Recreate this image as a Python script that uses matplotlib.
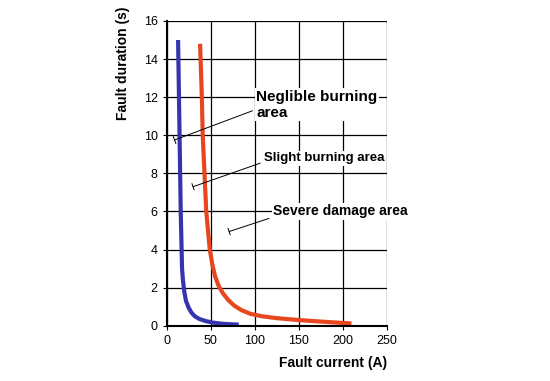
import matplotlib
matplotlib.use("Agg")
import matplotlib.pyplot as plt

plt.rcParams['font.family'] = ['Liberation Sans', 'DejaVu Sans']

# blue curve (left boundary)
blue_current = [13, 14, 15, 16, 16.5, 17, 17.5, 18.5, 20, 22, 25, 28, 32, 37,
                44, 52, 62, 72, 82]
blue_duration = [15, 12, 9, 6, 5, 4, 3, 2.4, 1.8, 1.3, 0.95, 0.7, 0.5, 0.36,
                 0.25, 0.17, 0.11, 0.08, 0.06]

# red curve (right boundary)
red_current = [38, 40, 41, 43, 45, 47, 49, 52, 55, 59, 64, 70, 77, 85, 95,
               108, 125, 145, 165, 185, 210]
red_duration = [14.8, 12, 10, 8, 6, 5, 4, 3.2, 2.6, 2.1, 1.7, 1.35, 1.05,
                0.82, 0.63, 0.5, 0.4, 0.32, 0.25, 0.19, 0.12]

xticks = [0, 50, 100, 150, 200, 250]
yticks = [0, 2, 4, 6, 8, 10, 12, 14, 16]

fig = plt.figure(figsize=(5.5, 3.81), dpi=100)
ax = fig.add_axes([0.303, 0.145, 0.40, 0.80])

ax.plot(blue_current, blue_duration, c="#3535b0", lw=3, solid_capstyle="butt")
ax.plot(red_current, red_duration, c="#e8461e", lw=3, solid_capstyle="butt")

ax.set_xlim(0, 250)
ax.set_ylim(0, 16)
ax.set_xticks(xticks)
ax.set_yticks(yticks)
ax.grid(True, color="black", lw=0.9)
ax.set_axisbelow(True)
for s in ["top", "right"]:
    ax.spines[s].set_visible(False)
ax.spines["left"].set_linewidth(1.5)
ax.spines["bottom"].set_linewidth(1.5)
ax.tick_params(axis="both", labelsize=9, length=3, color="black")

ax.set_ylabel("Fault duration (s)", fontsize=10, fontweight="bold")
ax.yaxis.set_label_coords(-0.165, 0.86)
ax.set_xlabel("Fault current (A)", fontsize=10, fontweight="bold")
ax.xaxis.set_label_coords(1.0, -0.1)
ax.xaxis.label.set_horizontalalignment("right")

arrow = dict(arrowstyle="-[, widthB=0.25, lengthB=0", color="black", lw=0.7)
box = dict(facecolor="white", edgecolor="none", pad=1)
ax.annotate("Neglible burning\narea", xy=(6, 9.7), xytext=(102, 11.6),
            fontsize=11, fontweight="bold", va="center", ha="left", bbox=box,
            arrowprops=dict(arrow, relpos=(0, 0.35)), annotation_clip=False)
ax.annotate("Slight burning area", xy=(27, 7.25), xytext=(111, 8.8),
            fontsize=9.5, fontweight="bold", va="center", ha="left", bbox=box,
            arrowprops=dict(arrow, relpos=(0, 0.2)), annotation_clip=False)
ax.annotate("Severe damage area", xy=(68, 4.9), xytext=(121, 6.0),
            fontsize=10, fontweight="bold", va="center", ha="left", bbox=box,
            arrowprops=dict(arrow, relpos=(0, 0.1)), annotation_clip=False)

fig.savefig("out.png", dpi=100)
